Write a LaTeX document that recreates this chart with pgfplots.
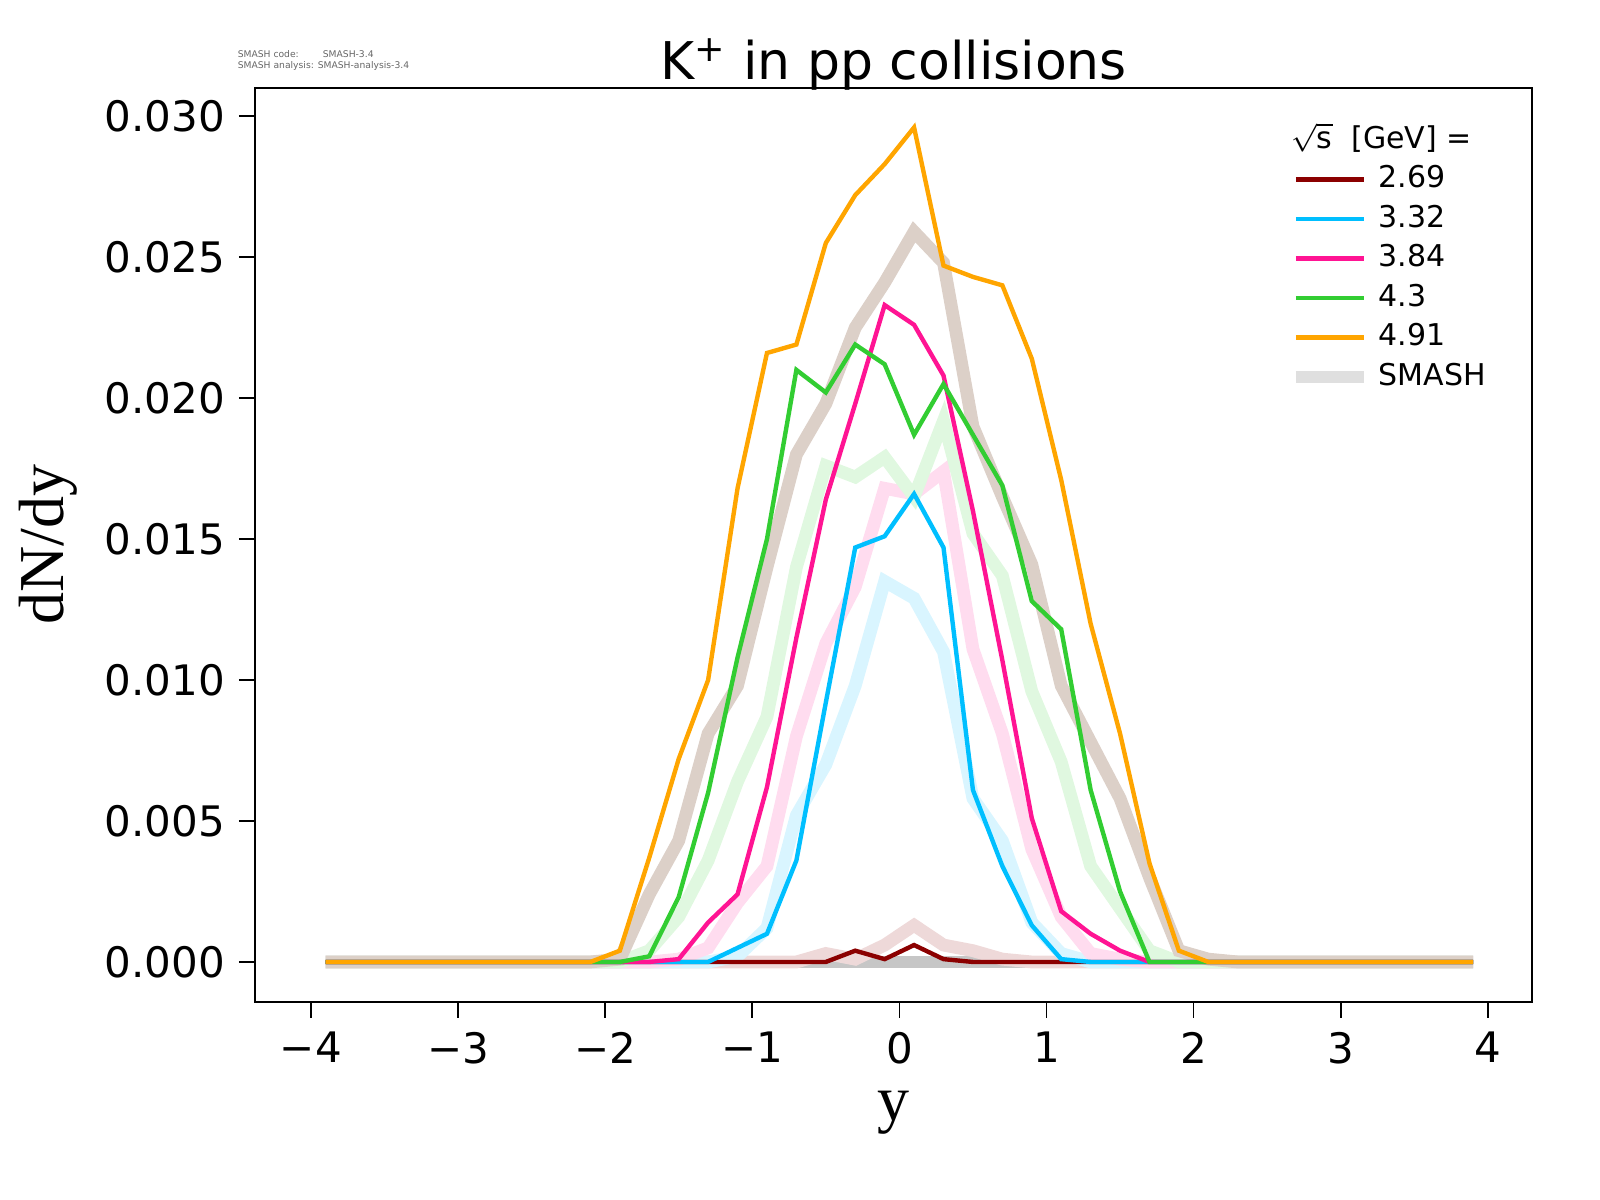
\documentclass[border=0pt]{standalone}
\usepackage{pgfplots}
\pgfplotsset{compat=1.18}
\usepackage{fontspec}
\setmainfont{DejaVu Sans}
\newfontfamily\serif{Liberation Serif}
\definecolor{cDR}{HTML}{8B0000}
\definecolor{cB}{HTML}{00BFFF}
\definecolor{cP}{HTML}{FF1493}
\definecolor{cG}{HTML}{32CD32}
\definecolor{cO}{HTML}{FFA500}
\definecolor{rBr}{HTML}{DCD0C8}
\begin{document}
\begin{tikzpicture}
\begin{axis}[
  scale only axis, width=319.25pt, height=228.5pt,
  xmin=-4.38, xmax=4.30, ymin=-0.00142, ymax=0.0310,
  xtick={-4,-3,...,4}, xticklabels={−4,−3,−2,−1,0,1,2,3,4},
  ytick={0,0.005,0.010,0.015,0.020,0.025,0.030},
  yticklabel style={/pgf/number format/.cd,fixed,fixed zerofill,precision=3},
  scaled y ticks=false,
  /pgf/number format/assume math mode=true,
  ticklabel style={font=\fontsize{10.5}{12}\selectfont},
  tick align=outside, tick style={black,thin}, major tick length=4pt,
  xtick pos=bottom, ytick pos=left,
  xlabel={\serif\fontsize{16}{18}\selectfont y},
  ylabel={\serif\fontsize{16}{18}\selectfont dN/dy},
  title={\fontsize{13}{15}\selectfont K\textsuperscript{+} in pp collisions},
  title style={yshift=-10pt},
  legend style={draw=none, fill=none, at={(0.98,0.98)}, anchor=north east, font=\fontsize{7.5}{9}\selectfont, row sep=-1.2pt},
  legend cell align=left,
]
\addlegendimage{empty legend}
\addlegendentry{\hspace{-22pt}$\sqrt{\mathrm{s}}$\ \ [GeV] =}
\addplot[line width=3.2pt, color=gray!45, forget plot] coordinates {(-3.9,0)(3.9,0)};
\addplot[line width=3.2pt, color=cDR!15, forget plot] coordinates {(-3.9,0)(-0.7,0)(-0.5,0.0003)(-0.3,0.0001)(-0.1,0.0006)(0.1,0.0013)(0.3,0.0006)(0.5,0.0004)(0.7,0.0001)(0.9,0)(3.9,0)};
\addplot[line width=3.2pt, color=cB!15, forget plot] coordinates {(-3.9,0)(-1.3,0)(-1.1,0.0002)(-0.9,0.0012)(-0.7,0.0052)(-0.5,0.0070)(-0.3,0.0098)(-0.1,0.0135)(0.1,0.0129)(0.3,0.0110)(0.5,0.0058)(0.7,0.0043)(0.9,0.0014)(1.1,0.0003)(1.3,0)(3.9,0)};
\addplot[line width=3.2pt, color=cP!15, forget plot] coordinates {(-3.9,0)(-1.7,0)(-1.5,0.0001)(-1.3,0.0005)(-1.1,0.0021)(-0.9,0.0034)(-0.7,0.0080)(-0.5,0.0113)(-0.3,0.0133)(-0.1,0.0168)(0.1,0.0166)(0.3,0.0174)(0.5,0.0111)(0.7,0.0081)(0.9,0.0040)(1.1,0.0016)(1.3,0.0003)(1.5,0.0001)(1.7,0)(3.9,0)};
\addplot[line width=3.2pt, color=cG!15, forget plot] coordinates {(-3.9,0)(-1.9,0)(-1.7,0.0004)(-1.5,0.0016)(-1.3,0.0036)(-1.1,0.0064)(-0.9,0.0087)(-0.7,0.0140)(-0.5,0.0176)(-0.3,0.0172)(-0.1,0.0179)(0.1,0.0165)(0.3,0.0192)(0.5,0.0152)(0.7,0.0137)(0.9,0.0096)(1.1,0.0071)(1.3,0.0034)(1.5,0.0019)(1.7,0.0004)(1.9,0)(3.9,0)};
\addplot[line width=3.2pt, color=rBr, forget plot] coordinates {(-3.9,0)(-2.1,0)(-1.9,0.0001)(-1.7,0.0024)(-1.5,0.0043)(-1.3,0.0081)(-1.1,0.0098)(-0.9,0.0140)(-0.7,0.0180)(-0.5,0.0198)(-0.3,0.0225)(-0.1,0.0241)(0.1,0.0259)(0.3,0.0248)(0.5,0.0190)(0.7,0.0165)(0.9,0.0141)(1.1,0.0098)(1.3,0.0078)(1.5,0.0058)(1.7,0.0030)(1.9,0.0004)(2.1,0.0001)(2.3,0)(3.9,0)};
\addplot[line width=1.1pt, color=cDR] coordinates {(-3.9,0)(-0.5,0)(-0.3,0.0004)(-0.1,0.0001)(0.1,0.0006)(0.3,0.0001)(0.5,0)(3.9,0)};
\addlegendentry{2.69}
\addplot[line width=1.1pt, color=cB] coordinates {(-3.9,0)(-1.3,0)(-1.1,0.0005)(-0.9,0.0010)(-0.7,0.0036)(-0.5,0.0092)(-0.3,0.0147)(-0.1,0.0151)(0.1,0.0166)(0.3,0.0147)(0.5,0.0061)(0.7,0.0034)(0.9,0.0013)(1.1,0.0001)(1.3,0)(3.9,0)};
\addlegendentry{3.32}
\addplot[line width=1.1pt, color=cP] coordinates {(-3.9,0)(-1.7,0)(-1.5,0.0001)(-1.3,0.0014)(-1.1,0.0024)(-0.9,0.0062)(-0.7,0.0115)(-0.5,0.0164)(-0.3,0.0198)(-0.1,0.0233)(0.1,0.0226)(0.3,0.0208)(0.5,0.0160)(0.7,0.0107)(0.9,0.0051)(1.1,0.0018)(1.3,0.0010)(1.5,0.0004)(1.7,0)(3.9,0)};
\addlegendentry{3.84}
\addplot[line width=1.1pt, color=cG] coordinates {(-3.9,0)(-1.9,0)(-1.7,0.0002)(-1.5,0.0023)(-1.3,0.0060)(-1.1,0.0108)(-0.9,0.0150)(-0.7,0.0210)(-0.5,0.0202)(-0.3,0.0219)(-0.1,0.0212)(0.1,0.0187)(0.3,0.0205)(0.5,0.0187)(0.7,0.0169)(0.9,0.0128)(1.1,0.0118)(1.3,0.0061)(1.5,0.0025)(1.7,0)(3.9,0)};
\addlegendentry{4.3}
\addplot[line width=1.1pt, color=cO] coordinates {(-3.9,0)(-2.1,0)(-1.9,0.0004)(-1.7,0.0037)(-1.5,0.0072)(-1.3,0.0100)(-1.1,0.0168)(-0.9,0.0216)(-0.7,0.0219)(-0.5,0.0255)(-0.3,0.0272)(-0.1,0.0283)(0.1,0.0296)(0.3,0.0247)(0.5,0.0243)(0.7,0.0240)(0.9,0.0214)(1.1,0.0171)(1.3,0.0120)(1.5,0.0081)(1.7,0.0035)(1.9,0.0004)(2.1,0)(3.9,0)};
\addlegendentry{4.91}
\addlegendimage{line width=3.2pt, color=gray!25}
\addlegendentry{SMASH}
\end{axis}
\node[anchor=north west, font=\fontsize{2.3}{2.8}\selectfont, text=gray!80!black, align=left, inner sep=0pt] at (-4.5pt,238pt) {SMASH code:\hspace{6pt}SMASH-3.4\\SMASH analysis: SMASH-analysis-3.4};
\pgfresetboundingbox
\useasboundingbox (-63.75pt,-49.5pt) rectangle (336.25pt,250.5pt);
\end{tikzpicture}
\end{document}
